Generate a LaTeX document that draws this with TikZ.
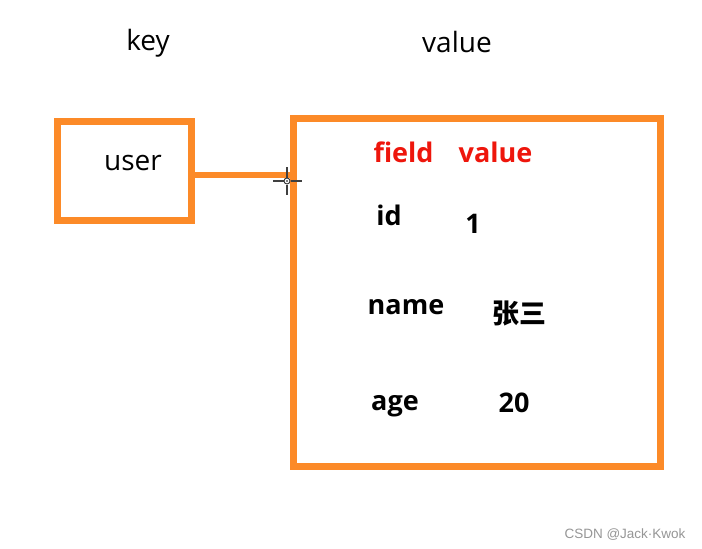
\documentclass[tikz,border=0pt]{standalone}
\usepackage{fontspec}
\setmainfont{Open Sans}
\newfontfamily\cjk{Noto Sans CJK SC}
\newfontfamily\markfont{Liberation Sans}
\definecolor{boxorange}{RGB}{252,138,40}
\definecolor{fieldred}{RGB}{238,22,12}
\definecolor{marktxt}{RGB}{150,150,150}
\tikzset{
  box/.style={draw=boxorange, line width=7pt},
  lbl/.style={anchor=base, inner sep=0pt, font=\fontsize{28}{32}\selectfont},
  blbl/.style={anchor=base, inner sep=0pt, font=\fontsize{27}{31}\selectfont\bfseries},
  hdr/.style={blbl, text=fieldred},
}
\begin{document}
\begin{tikzpicture}[x=1pt,y=-1pt]
\useasboundingbox[fill=white] (0,0) rectangle (702,549);
% boxes
\draw[box] (57.5,121.5) rectangle (191.5,220);
\draw[box] (293.5,118.5) rectangle (660,466);
\coordinate (keyR) at (189,175);
\coordinate (valL) at (290,175);
\draw[draw=boxorange, line width=6pt] (keyR) -- (valL);
% texts
\node[lbl] (key) at (148,50) {key};
\node[lbl] (val) at (457,52) {value};
\node[lbl] (user) at (133,170) {user};
\node[hdr] (fld) at (403.5,162) {field};
\node[hdr] (fval) at (495.5,162) {value};
\node[blbl] (id) at (389,225) {id};
\node[blbl] (one) at (473,233) {1};
\node[blbl] (name) at (406,314) {name};
\node[blbl, font=\fontsize{27}{31}\selectfont\cjk\bfseries] (zs) at (519,323) {张三};
\node[blbl] (age) at (395,410) {age};
\node[blbl] (twenty) at (514,412) {20};
\node[anchor=base, inner sep=0pt, text=marktxt, font=\fontsize{13.5}{15}\selectfont\markfont] (mark) at (625,538) {CSDN @Jack·Kwok};
% cursor crosshair
\coordinate (cc) at (287,181);
\draw[line width=1.3pt, black!75] (273,181) -- (283.5,181) (290.5,181) -- (302,181)
  (287,167) -- (287,177.5) (287,184.5) -- (287,195);
\draw[line width=0.9pt, black!80, fill=white] (cc) circle (3pt);
\fill[black] (cc) circle (0.9pt);
\end{tikzpicture}
\end{document}
